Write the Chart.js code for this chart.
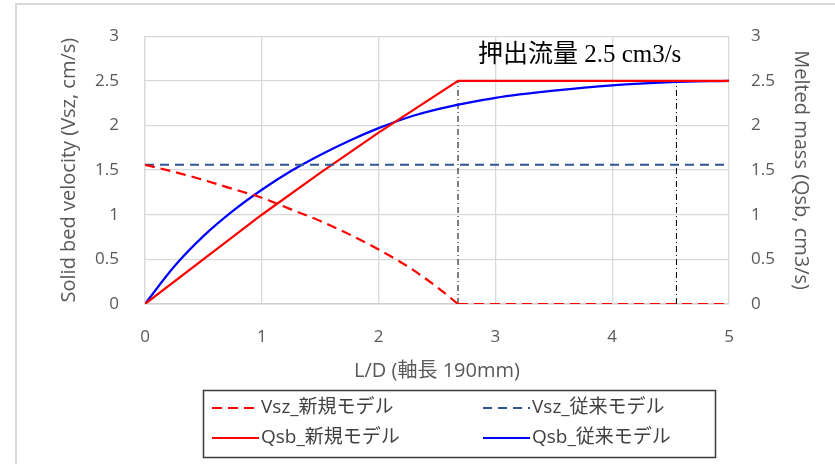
<!DOCTYPE html>
<html><head><meta charset="utf-8">
<script src="https://cdn.jsdelivr.net/npm/chart.js@4.4.1/dist/chart.umd.min.js"></script>
<style>html,body{margin:0;padding:0;background:#fff}canvas{display:block}</style>
</head><body>
<canvas id="c" width="835" height="464"></canvas>
<script>
// ---- data ----
const xTicks = [0, 1, 2, 3, 4, 5];
const yTicks = [0, 0.5, 1, 1.5, 2, 2.5, 3];
const seriesNames = ['Vsz_新規モデル', 'Vsz_従来モデル', 'Qsb_新規モデル', 'Qsb_従来モデル'];

// Vsz new model: decreasing curve, then zero after melting completes
const ldVszNew = [0, 0.25, 0.5, 0.75, 1, 1.25, 1.5, 1.75, 2, 2.25, 2.5, 2.68];
const vszNew   = [1.56, 1.48, 1.39, 1.29, 1.19, 1.06, 0.93, 0.78, 0.61, 0.42, 0.19, 0];
const ldVszNewZero = [2.68, 5];
const vszNewZero   = [0, 0];

const ldVszOld = [0, 5];
const vszOld   = [1.56, 1.56];

const ldQsbNew = [0, 1, 1.5, 2, 2.68, 3, 4, 5];
const qsbNew   = [0, 1.0, 1.47, 1.92, 2.5, 2.5, 2.5, 2.5];

const ldQsbOld = [0, 0.25, 0.5, 0.75, 1, 1.25, 1.5, 1.75, 2, 2.25, 2.5, 2.75, 3, 3.5, 4, 4.5, 5];
const qsbOld   = [0, 0.42, 0.76, 1.04, 1.28, 1.49, 1.67, 1.83, 1.97, 2.09, 2.18, 2.25, 2.31, 2.39, 2.45, 2.485, 2.5];

const guideLD  = [2.68, 4.55];
const guideTop = 2.5;

const annotationText = '押出流量 2.5 cm3/s';
const annotationAt = { x: 2.85, y: 2.79 };

// ---- build ----
const pts = (xs, ys) => xs.map((x, i) => ({ x: x, y: ys[i] }));
const SANS = '"Open Sans", "Noto Sans CJK JP", sans-serif';
Chart.defaults.font.family = SANS;

const RED = '#FF0000', NAVY = '#2F5597', BLUE = '#0000FF';
const datasets = [
  { label: seriesNames[0], data: pts(ldVszNew, vszNew), yAxisID: 'y',
    borderColor: RED, borderWidth: 2.2, borderDash: [10, 6], cubicInterpolationMode: 'monotone' },
  { label: seriesNames[1], data: pts(ldVszOld, vszOld), yAxisID: 'y',
    borderColor: NAVY, borderWidth: 2.2, borderDash: [9, 6] },
  { label: seriesNames[2], data: pts(ldQsbNew, qsbNew), yAxisID: 'y2',
    borderColor: RED, borderWidth: 2.2 },
  { label: seriesNames[3], data: pts(ldQsbOld, qsbOld), yAxisID: 'y2',
    borderColor: BLUE, borderWidth: 2.2, cubicInterpolationMode: 'monotone' },
  { label: '', data: pts(ldVszNewZero, vszNewZero), yAxisID: 'y',
    borderColor: RED, borderWidth: 2.2, borderDash: [10, 6] }
];
guideLD.forEach(g => datasets.push({
  label: '', data: [{ x: g, y: 0 }, { x: g, y: guideTop }], yAxisID: 'y2',
  borderColor: '#000000', borderWidth: 1, borderDash: [6, 3, 1, 3]
}));

const frame = {
  id: 'frame',
  beforeDraw(chart) {
    const ctx = chart.ctx;
    ctx.save();
    ctx.fillStyle = '#ffffff';
    ctx.fillRect(0, 0, chart.width, chart.height);
    ctx.strokeStyle = '#d9d9d9';
    ctx.lineWidth = 2;
    ctx.beginPath();
    ctx.moveTo(16, chart.height); ctx.lineTo(16, 4); ctx.lineTo(chart.width, 4);
    ctx.stroke();
    ctx.restore();
  },
  afterDraw(chart) {
    const ctx = chart.ctx;
    ctx.save();
    // annotation
    const sx = chart.scales.x, sy = chart.scales.y2;
    ctx.font = '25px "Liberation Serif", "Noto Sans CJK JP", serif';
    ctx.fillStyle = '#000';
    ctx.textBaseline = 'middle';
    ctx.textAlign = 'left';
    ctx.fillText(annotationText, sx.getPixelForValue(annotationAt.x), sy.getPixelForValue(annotationAt.y));
    // legend
    ctx.strokeStyle = '#3a3a3a';
    ctx.lineWidth = 1.5;
    ctx.setLineDash([]);
    ctx.strokeRect(203.5, 390.5, 512, 67);
    const cols = [212, 483], rows = [408, 438];
    ctx.font = '19px ' + SANS;
    for (let i = 0; i < 4; i++) {
      const ds = chart.data.datasets[i];
      const cx = cols[i % 2], cy = rows[Math.floor(i / 2)];
      ctx.strokeStyle = ds.borderColor;
      ctx.lineWidth = 2.2;
      ctx.setLineDash(ds.borderDash || []);
      ctx.beginPath(); ctx.moveTo(cx, cy); ctx.lineTo(cx + 47, cy); ctx.stroke();
      ctx.setLineDash([]);
      ctx.fillStyle = '#404040';
      ctx.fillText(ds.label, cx + 49, cy);
    }
    ctx.restore();
  }
};

const fmt = v => String(v);

new Chart(document.getElementById('c'), {
  type: 'line',
  data: { datasets: datasets },
  options: {
    responsive: false,
    animation: false,
    events: [],
    layout: { padding: { left: 54, right: 14, top: 34, bottom: 74 } },
    elements: { point: { radius: 0 }, line: { tension: 0 } },
    plugins: { legend: { display: false }, tooltip: { enabled: false } },
    scales: {
      x: {
        type: 'linear', min: 0, max: 5,
        afterBuildTicks: s => { s.ticks = xTicks.map(v => ({ value: v })); },
        afterFit: s => { s.height = 86; },
        grid: { color: '#d9d9d9', drawTicks: false, lineWidth: 1.3 },
        border: { color: '#d0d0d0', width: 1.5 },
        ticks: { padding: 23, color: '#595959', font: { size: 17 }, callback: fmt },
        title: { display: true, text: 'L/D (軸長 190mm)', color: '#595959',
                 font: { size: 20 }, padding: { top: 10, bottom: 7 } }
      },
      y: {
        position: 'left', min: 0, max: 3,
        afterBuildTicks: s => { s.ticks = yTicks.map(v => ({ value: v })); },
        afterFit: s => { s.width = 91; },
        grid: { color: '#d9d9d9', drawTicks: false, lineWidth: 1.3 },
        border: { color: '#d9d9d9', width: 1.3 },
        ticks: { padding: 26, color: '#595959', font: { size: 17 }, callback: fmt },
        title: { display: true, text: 'Solid bed velocity (Vsz, cm/s)', color: '#595959',
                 font: { size: 20 }, padding: { top: 3, bottom: 0 } }
      },
      y2: {
        position: 'right', min: 0, max: 3,
        afterBuildTicks: s => { s.ticks = yTicks.map(v => ({ value: v })); },
        afterFit: s => { s.width = 92; },
        grid: { display: false, drawTicks: false },
        border: { display: false },
        ticks: { padding: 22, color: '#595959', font: { size: 17 }, callback: fmt },
        title: { display: true, text: 'Melted mass (Qsb, cm3/s)', color: '#595959',
                 font: { size: 20 }, padding: { top: 8, bottom: 0 } }
      }
    }
  },
  plugins: [frame]
});
</script>
</body></html>
